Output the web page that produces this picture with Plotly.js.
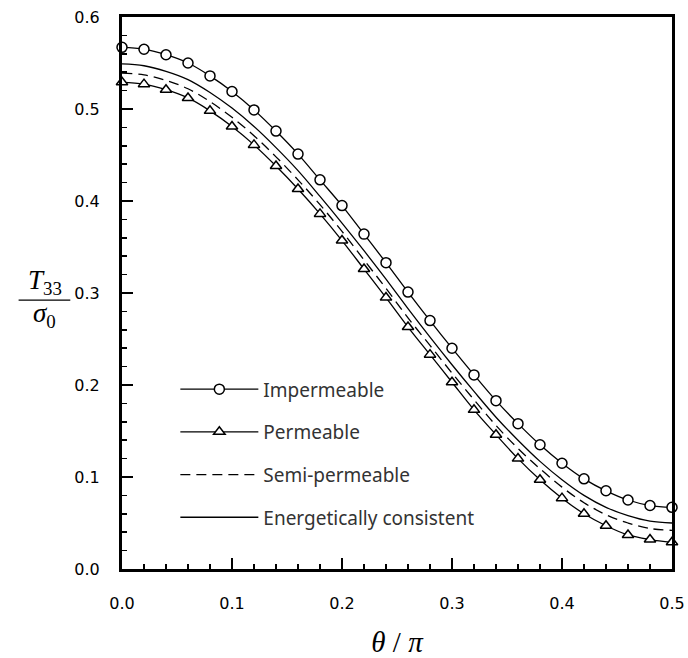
<!DOCTYPE html>
<html>
<head>
<meta charset="utf-8">
<script src="https://cdn.plot.ly/plotly-3.0.1.min.js"></script>
<style>
html, body { margin: 0; padding: 0; background: #fff; }
#chart { width: 688px; height: 658px; }
</style>
</head>
<body>
<div id="chart"></div>
<script>
// theta / pi
const theta = [0.00, 0.02, 0.04, 0.06, 0.08, 0.10, 0.12, 0.14, 0.16, 0.18, 0.20, 0.22, 0.24,
               0.26, 0.28, 0.30, 0.32, 0.34, 0.36, 0.38, 0.40, 0.42, 0.44, 0.46, 0.48, 0.50];

const impermeable = [0.567, 0.565, 0.559, 0.550, 0.536, 0.519, 0.499, 0.476, 0.451, 0.423, 0.395, 0.364, 0.333,
                     0.301, 0.270, 0.240, 0.211, 0.183, 0.158, 0.135, 0.115, 0.098, 0.085, 0.075, 0.069, 0.067];

const permeable = [0.529, 0.527, 0.521, 0.512, 0.498, 0.481, 0.461, 0.438, 0.413, 0.386, 0.357, 0.326, 0.295,
                   0.263, 0.233, 0.203, 0.173, 0.146, 0.120, 0.097, 0.077, 0.060, 0.047, 0.037, 0.032, 0.029];

const semiPermeable = [0.539, 0.537, 0.531, 0.522, 0.508, 0.491, 0.471, 0.448, 0.423, 0.396, 0.367, 0.336, 0.305,
                       0.273, 0.243, 0.213, 0.184, 0.156, 0.131, 0.109, 0.089, 0.072, 0.059, 0.050, 0.044, 0.042];

const energetic = [0.549, 0.547, 0.541, 0.532, 0.518, 0.501, 0.481, 0.458, 0.433, 0.405, 0.376, 0.346, 0.315,
                   0.283, 0.252, 0.222, 0.193, 0.165, 0.140, 0.117, 0.097, 0.080, 0.067, 0.058, 0.052, 0.050];

const seriesNames = ['Impermeable', 'Permeable', 'Semi-permeable', 'Energetically consistent'];
const xTickVals = [0, 0.1, 0.2, 0.3, 0.4, 0.5];
const yTickVals = [0, 0.1, 0.2, 0.3, 0.4, 0.5, 0.6];

const lineW = 1.3;
const traces = [
  {
    x: theta, y: impermeable, name: seriesNames[0], legendgroup: 'a',
    mode: 'lines+markers', cliponaxis: false,
    line: { color: '#000', width: lineW, shape: 'spline' },
    marker: { symbol: 'circle', size: 10, color: '#fff', line: { color: '#000', width: 1.5 } }
  },
  {
    x: theta, y: permeable, name: seriesNames[1], legendgroup: 'b',
    mode: 'lines+markers', cliponaxis: false,
    line: { color: '#000', width: lineW, shape: 'spline' },
    marker: { symbol: 'triangle-up', size: 10, color: '#fff', line: { color: '#000', width: 1.5 } }
  },
  {
    x: theta, y: semiPermeable, name: seriesNames[2], legendgroup: 'c',
    mode: 'lines',
    line: { color: '#000', width: lineW, shape: 'spline', dash: '10px,6px' }
  },
  {
    x: theta, y: energetic, name: seriesNames[3], legendgroup: 'd',
    mode: 'lines',
    line: { color: '#000', width: lineW, shape: 'spline' }
  }
];

const tickFont = { family: 'DejaVu Sans, Verdana, sans-serif', size: 16, color: '#000' };
const serif = 'Liberation Serif, Times New Roman, serif';

const layout = {
  width: 688, height: 658,
  margin: { l: 122, r: 16, t: 17, b: 89 },
  paper_bgcolor: '#fff', plot_bgcolor: '#fff',
  showlegend: true,
  legend: {
    x: 0.097, y: 0.36, xanchor: 'left', yanchor: 'top',
    bgcolor: 'rgba(0,0,0,0)', borderwidth: 0,
    traceorder: 'grouped', tracegroupgap: 15, itemwidth: 78,
    font: { family: 'Noto Sans, sans-serif', size: 19, color: '#333' }
  },
  xaxis: {
    range: [0, 0.5], tickvals: xTickVals, tickformat: '.1f',
    ticks: 'inside', ticklen: 11, tickwidth: 2.5, tickcolor: '#000',
    minor: { dtick: 0.02, ticks: 'inside', ticklen: 5, tickwidth: 1.5, tickcolor: '#000' },
    showline: true, linewidth: 3, linecolor: '#000', mirror: true,
    showgrid: false, zeroline: false,
    tickfont: tickFont, ticklabelstandoff: 18,
    title: { text: '<i>θ</i> / <i>π</i>', font: { family: serif, size: 29, color: '#000' }, standoff: 28 }
  },
  yaxis: {
    range: [0, 0.6], tickvals: yTickVals, tickformat: '.1f',
    ticks: 'inside', ticklen: 11, tickwidth: 2.5, tickcolor: '#000',
    minor: { dtick: 0.02, ticks: 'inside', ticklen: 5, tickwidth: 1.5, tickcolor: '#000' },
    showline: true, linewidth: 3, linecolor: '#000', mirror: true,
    showgrid: false, zeroline: false,
    tickfont: tickFont, ticklabelstandoff: 16
  },
  annotations: [
    { xref: 'paper', yref: 'paper', x: -0.14, y: 0.487, xanchor: 'center', yanchor: 'bottom',
      text: '<i>T</i><sub>33</sub>', showarrow: false, borderpad: 0,
      font: { family: serif, size: 27, color: '#000' } },
    { xref: 'paper', yref: 'paper', x: -0.14, y: 0.492, xanchor: 'center', yanchor: 'top',
      text: '<i>σ</i><sub>0</sub>', showarrow: false, borderpad: 0,
      font: { family: serif, size: 27, color: '#000' } }
  ],
  shapes: [
    { type: 'line', xref: 'paper', yref: 'paper', x0: -0.188, x1: -0.094, y0: 0.487, y1: 0.487,
      line: { color: '#000', width: 1.2 } }
  ]
};

Plotly.newPlot('chart', traces, layout, { displayModeBar: false, staticPlot: true });
</script>
</body>
</html>
